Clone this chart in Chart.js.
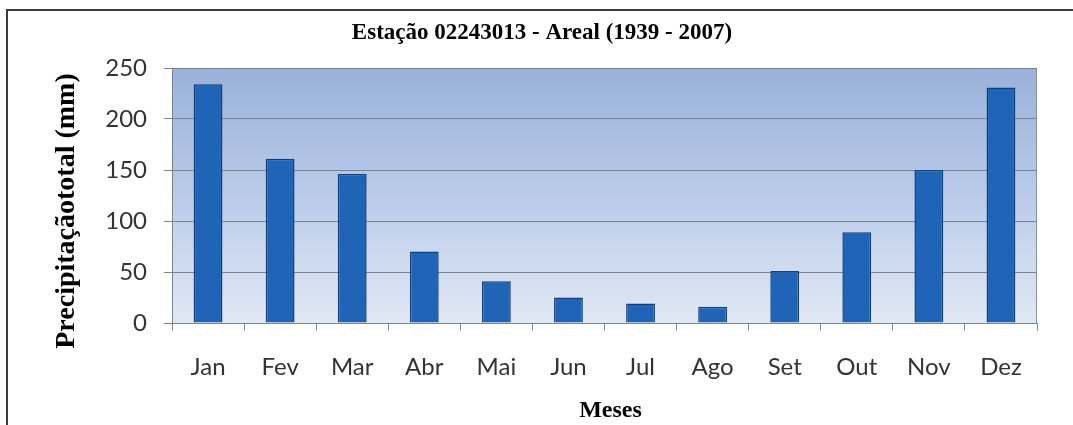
<!DOCTYPE html>
<html>
<head>
<meta charset="utf-8">
<script src="https://cdn.jsdelivr.net/npm/chart.js@4/dist/chart.umd.min.js"></script>
<style>
  html, body { margin: 0; padding: 0; background: #ffffff; overflow: hidden; }
  #wrap { position: relative; width: 1073px; height: 425px; }
  #frame { position: absolute; left: 6px; top: 9px; width: 1200px; height: 600px;
           border-top: 2px solid #3c3c3c; border-left: 2px solid #3c3c3c; box-sizing: border-box; }
  #box { position: absolute; left: 0; top: 0; width: 1073px; height: 425px; }
</style>
</head>
<body>
<div id="wrap">
  <div id="frame"></div>
  <div id="box"><canvas id="c"></canvas></div>
</div>
<script>
const chartTitle = "Estação 02243013 - Areal (1939 - 2007)";
const xAxisTitle = "Meses";
const yAxisTitle = "Precipitaçãototal (mm)";
const months = ["Jan", "Fev", "Mar", "Abr", "Mai", "Jun", "Jul", "Ago", "Set", "Out", "Nov", "Dez"];
const precipitation = [234, 161, 146, 70, 41, 25, 19, 16, 51, 89, 150, 231];
const yTicks = [0, 50, 100, 150, 200, 250];

const plotBackground = {
  id: 'plotBackground',
  beforeDraw(chart) {
    const {ctx, chartArea: a} = chart;
    const g = ctx.createLinearGradient(0, a.top, 0, a.bottom);
    g.addColorStop(0, '#9ab1d9');
    g.addColorStop(0.5, '#bacbe9');
    g.addColorStop(1, '#e1e8f4');
    ctx.save();
    ctx.fillStyle = g;
    ctx.fillRect(a.left, a.top, a.right - a.left, a.bottom - a.top);
    ctx.strokeStyle = '#8a93a3';
    ctx.lineWidth = 1;
    ctx.strokeRect(a.left + 0.5, a.top + 0.5, a.right - a.left - 1, a.bottom - a.top);
    ctx.restore();
  }
};

const textTitles = {
  id: 'textTitles',
  afterDraw(chart) {
    const {ctx, chartArea: a} = chart;
    ctx.save();
    ctx.fillStyle = '#000000';
    ctx.textAlign = 'center';
    ctx.textBaseline = 'middle';
    ctx.font = 'bold 23px "Liberation Serif"';
    ctx.fillText(chartTitle, 542, 33);
    ctx.font = 'bold 24px "Liberation Serif"';
    ctx.fillText(xAxisTitle, (a.left + a.right) / 2 + 6, 411);
    ctx.translate(67, 211);
    ctx.rotate(-Math.PI / 2);
    ctx.font = 'bold 28px "Liberation Serif"';
    ctx.fillText(yAxisTitle, 0, 0);
    ctx.restore();
  }
};

new Chart(document.getElementById('c'), {
  type: 'bar',
  data: {
    labels: months,
    datasets: [{
      data: precipitation,
      backgroundColor: '#1f64b6',
      borderColor: '#173f74',
      borderWidth: 1.5,
      barPercentage: 0.4,
      categoryPercentage: 1.0
    }]
  },
  options: {
    responsive: true,
    maintainAspectRatio: false,
    animation: false,
    layout: { padding: { left: 0, right: 36, top: 68, bottom: 0 } },
    plugins: {
      legend: { display: false },
      tooltip: { enabled: false },
      title: { display: false }
    },
    scales: {
      x: {
        grid: { display: true, drawOnChartArea: false, offset: true, color: '#8a8a8a', tickLength: 8 },
        border: { display: true, color: '#7d838c' },
        ticks: { color: '#333333', font: { family: 'Lato', size: 24 }, padding: 22, maxRotation: 0 },
        afterFit(scale) { scale.height = 102; }
      },
      y: {
        min: 0, max: 250,
        afterBuildTicks(scale) { scale.ticks = yTicks.map(v => ({ value: v })); },
        grid: { color: '#7d838c', tickLength: 8, lineWidth: 1 },
        border: { display: true, color: '#7d838c' },
        ticks: { color: '#333333', font: { family: 'Lato', size: 24 }, padding: 17 },
        afterFit(scale) { scale.width = 172; }
      }
    }
  },
  plugins: [plotBackground, textTitles]
});
</script>
</body>
</html>
